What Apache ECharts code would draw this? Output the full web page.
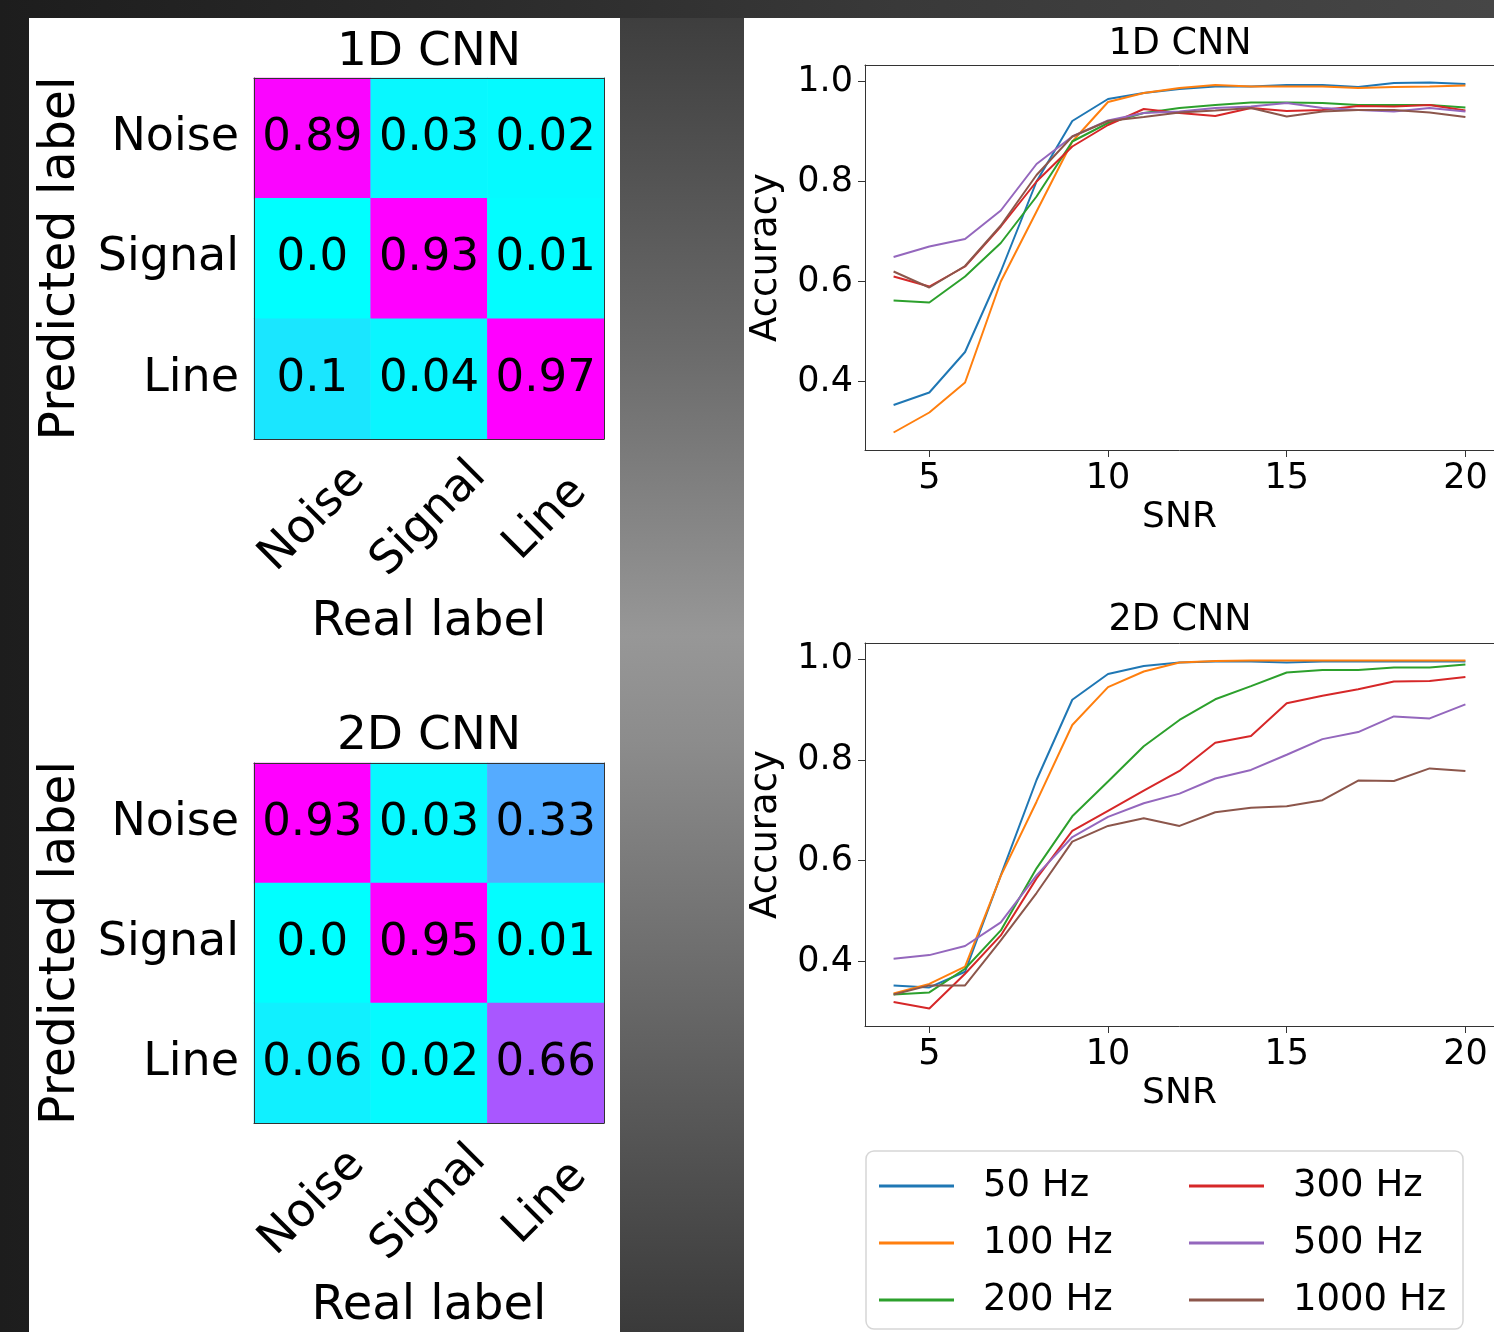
<!DOCTYPE html>
<html><head><meta charset="utf-8">
<script src="https://cdn.jsdelivr.net/npm/echarts@6/dist/echarts.min.js"></script>
<style>
html,body{margin:0;padding:0;width:1494px;height:1332px;overflow:hidden;}
body{background:linear-gradient(to right,#1d1d1d 0%,#2a2a2a 30%,#393939 60%,#464646 100%);position:relative;}
#mid{position:absolute;left:620px;top:18px;width:124px;height:1314px;background:linear-gradient(to bottom,#3e3e3e 0%,#6a6a6a 25%,#979797 47%,#8c8c8c 55%,#5e5e5e 80%,#3a3a3a 100%);}
#lp{position:absolute;left:29px;top:18px;width:591px;height:1314px;background:#fff;}
#rp{position:absolute;left:744px;top:18px;width:750px;height:1314px;background:#fff;}
#chart{position:absolute;left:0;top:0;width:1494px;height:1332px;}
</style></head>
<body>
<div id="mid"></div><div id="lp"></div><div id="rp"></div>
<div id="chart"></div>
<script>
// ---- data ----
const realLabels = ['Noise', 'Signal', 'Line'];
const predLabels = ['Noise', 'Signal', 'Line'];
// rows = predicted label, columns = real label
const cm1D = [[0.89, 0.03, 0.02], [0.0, 0.93, 0.01], [0.1, 0.04, 0.97]];
const cm2D = [[0.93, 0.03, 0.33], [0.0, 0.95, 0.01], [0.06, 0.02, 0.66]];

const snr = [4, 5, 6, 7, 8, 9, 10, 11, 12, 13, 14, 15, 16, 17, 18, 19, 20];
const xTicks = [5, 10, 15, 20];
const yTicks = [0.4, 0.6, 0.8, 1.0];
const seriesNames = ['50 Hz', '100 Hz', '200 Hz', '300 Hz', '500 Hz', '1000 Hz'];

const acc1D_50 = [0.353, 0.378, 0.459, 0.62, 0.80, 0.921, 0.965, 0.977, 0.985, 0.99, 0.99, 0.993, 0.993, 0.989, 0.997, 0.998, 0.995];
const acc1D_100 = [0.298, 0.338, 0.398, 0.60, 0.74, 0.88, 0.959, 0.977, 0.987, 0.993, 0.99, 0.99, 0.99, 0.987, 0.989, 0.99, 0.992];
const acc1D_200 = [0.562, 0.558, 0.61, 0.677, 0.77, 0.88, 0.917, 0.937, 0.947, 0.953, 0.958, 0.958, 0.957, 0.953, 0.953, 0.953, 0.948];
const acc1D_300 = [0.61, 0.59, 0.63, 0.71, 0.80, 0.87, 0.913, 0.945, 0.937, 0.931, 0.947, 0.941, 0.943, 0.951, 0.95, 0.953, 0.942];
const acc1D_500 = [0.649, 0.67, 0.685, 0.742, 0.835, 0.89, 0.922, 0.937, 0.94, 0.947, 0.95, 0.957, 0.947, 0.943, 0.94, 0.947, 0.94];
const acc1D_1000 = [0.62, 0.588, 0.631, 0.712, 0.813, 0.89, 0.921, 0.929, 0.938, 0.942, 0.947, 0.93, 0.94, 0.943, 0.943, 0.938, 0.929];

const acc2D_50 = [0.353, 0.349, 0.38, 0.571, 0.76, 0.919, 0.97, 0.986, 0.993, 0.995, 0.995, 0.993, 0.995, 0.995, 0.995, 0.995, 0.995];
const acc2D_100 = [0.337, 0.356, 0.39, 0.57, 0.717, 0.869, 0.944, 0.975, 0.993, 0.996, 0.997, 0.997, 0.997, 0.997, 0.997, 0.997, 0.997];
const acc2D_200 = [0.335, 0.339, 0.386, 0.462, 0.585, 0.688, 0.757, 0.827, 0.879, 0.92, 0.946, 0.973, 0.978, 0.978, 0.983, 0.983, 0.989];
const acc2D_300 = [0.32, 0.307, 0.376, 0.452, 0.565, 0.659, 0.699, 0.739, 0.778, 0.834, 0.847, 0.912, 0.927, 0.94, 0.955, 0.956, 0.964];
const acc2D_500 = [0.406, 0.413, 0.431, 0.478, 0.571, 0.647, 0.687, 0.714, 0.733, 0.763, 0.78, 0.81, 0.841, 0.855, 0.886, 0.882, 0.91];
const acc2D_1000 = [0.335, 0.353, 0.353, 0.442, 0.536, 0.638, 0.669, 0.684, 0.669, 0.696, 0.705, 0.708, 0.72, 0.759, 0.758, 0.783, 0.778];

const lines1D = [acc1D_50, acc1D_100, acc1D_200, acc1D_300, acc1D_500, acc1D_1000];
const lines2D = [acc2D_50, acc2D_100, acc2D_200, acc2D_300, acc2D_500, acc2D_1000];

// ---- styling ----
const FONT = '"DejaVu Sans", sans-serif';
const COLORS = ['#1f77b4', '#ff7f0e', '#2ca02c', '#d62728', '#9467bd', '#8c564b'];
const AX = '#333';
function cool(t) { return 'rgb(' + Math.round(255 * t) + ',' + Math.round(255 * (1 - t)) + ',255)'; }
const coolStops = [0, 0.1, 0.2, 0.3, 0.4, 0.5, 0.6, 0.7, 0.8].map(cool).concat(['#ff00ff']);

function cells(m) { const d = []; m.forEach((row, r) => row.forEach((v, c) => d.push([c, r, v]))); return d; }
function fmt(v) { return Number.isInteger(Math.round(v * 1000) / 100) ? v.toFixed(1) : String(v); }
function pairs(ys) { return snr.map((x, i) => [x, ys[i]]); }

const mats = [
  { grid: { left: 254, top: 78, width: 350, height: 361 }, title: '1D CNN', ty: 53, m: cm1D },
  { grid: { left: 254, top: 763, width: 350, height: 360 }, title: '2D CNN', ty: 737, m: cm2D }
];
const plots = [
  { grid: { left: 865, top: 65, width: 630, height: 385 }, title: '1D CNN', ty: 45, min: 0.263, max: 1.033, lines: lines1D },
  { grid: { left: 865, top: 643, width: 630, height: 383 }, title: '2D CNN', ty: 621, min: 0.2725, max: 1.0315, lines: lines2D }
];

const grid = [], xAxis = [], yAxis = [], series = [], visualMap = [], graphic = [];

mats.forEach((mt, k) => {
  grid.push(mt.grid);
  const gi = grid.length - 1;
  xAxis.push({
    type: 'category', gridIndex: gi, data: realLabels, position: 'bottom', z: 5,
    axisLine: { lineStyle: { color: AX, width: 1 } },
    axisTick: { alignWithLabel: true, length: 7, lineStyle: { color: AX } },
    axisLabel: { interval: 0, rotate: 45, align: 'center', verticalAlign: 'middle', margin: 80, fontSize: 46, color: '#000', fontFamily: FONT },
    splitLine: { show: false },
    name: 'Real label', nameLocation: 'middle', nameGap: 160,
    nameTextStyle: { fontSize: 48, color: '#000', fontFamily: FONT }
  });
  xAxis.push({
    type: 'category', gridIndex: gi, data: realLabels, position: 'top', z: 5,
    axisLine: { show: true, lineStyle: { color: AX, width: 1 } },
    axisTick: { show: false }, axisLabel: { show: false }, splitLine: { show: false }
  });
  yAxis.push({
    type: 'category', gridIndex: gi, data: predLabels, inverse: true, z: 5,
    axisLine: { lineStyle: { color: AX, width: 1 } },
    axisTick: { alignWithLabel: true, length: 7, lineStyle: { color: AX } },
    axisLabel: { interval: 0, margin: 15, fontSize: 46, color: '#000', fontFamily: FONT },
    splitLine: { show: false },
    name: 'Predicted label', nameLocation: 'middle', nameRotate: 90, nameGap: 168,
    nameTextStyle: { fontSize: 49, color: '#000', fontFamily: FONT }
  });
  yAxis.push({
    type: 'category', gridIndex: gi, data: predLabels, inverse: true, position: 'right', z: 5,
    axisLine: { show: true, lineStyle: { color: AX, width: 1 } },
    axisTick: { show: false }, axisLabel: { show: false }, splitLine: { show: false }
  });
  series.push({
    type: 'heatmap', xAxisIndex: xAxis.length - 2, yAxisIndex: yAxis.length - 2, z: 1,
    data: cells(mt.m),
    label: { show: true, fontSize: 45, color: '#000', fontFamily: FONT, formatter: p => fmt(p.value[2]) },
    itemStyle: { borderWidth: 0 },
    emphasis: { disabled: true }
  });
  visualMap.push({ type: 'continuous', show: false, seriesIndex: series.length - 1, dimension: 2, min: 0, max: 0.9, inRange: { color: coolStops } });
  graphic.push({ type: 'text', x: mt.grid.left + mt.grid.width / 2, y: mt.ty, z: 10,
    style: { text: mt.title, font: '47px ' + FONT, fill: '#000', align: 'center', verticalAlign: 'middle' } });
});

plots.forEach((pl) => {
  grid.push(pl.grid);
  const gi = grid.length - 1;
  xAxis.push({
    type: 'value', gridIndex: gi, min: 3.2, max: 20.8,
    axisLine: { show: true, onZero: false, lineStyle: { color: AX, width: 1 } },
    axisTick: { show: true, length: 7, customValues: xTicks, lineStyle: { color: AX } },
    axisLabel: { customValues: xTicks, margin: 11, fontSize: 35, color: '#000', fontFamily: FONT },
    splitLine: { show: false },
    name: 'SNR', nameLocation: 'middle', nameGap: 50,
    nameTextStyle: { fontSize: 36, color: '#000', fontFamily: FONT }
  });
  xAxis.push({
    type: 'value', gridIndex: gi, min: 3.2, max: 20.8, position: 'top',
    axisLine: { show: true, onZero: false, lineStyle: { color: AX, width: 1 } },
    axisTick: { show: false }, axisLabel: { show: false }, splitLine: { show: false }
  });
  yAxis.push({
    type: 'value', gridIndex: gi, min: pl.min, max: pl.max,
    axisLine: { show: true, onZero: false, lineStyle: { color: AX, width: 1 } },
    axisTick: { show: true, length: 7, customValues: yTicks, lineStyle: { color: AX } },
    axisLabel: { customValues: yTicks, margin: 12, fontSize: 35, color: '#000', fontFamily: FONT, formatter: v => v.toFixed(1) },
    splitLine: { show: false },
    name: 'Accuracy', nameLocation: 'middle', nameRotate: 90, nameGap: 80,
    nameTextStyle: { fontSize: 37, color: '#000', fontFamily: FONT }
  });
  yAxis.push({
    type: 'value', gridIndex: gi, min: pl.min, max: pl.max, position: 'right',
    axisLine: { show: true, onZero: false, lineStyle: { color: AX, width: 1 } },
    axisTick: { show: false }, axisLabel: { show: false }, splitLine: { show: false }
  });
  pl.lines.forEach((ys, i) => {
    series.push({
      type: 'line', name: seriesNames[i], xAxisIndex: xAxis.length - 2, yAxisIndex: yAxis.length - 2,
      data: pairs(ys), symbol: 'none', showSymbol: false, clip: true,
      itemStyle: { color: COLORS[i] }, lineStyle: { color: COLORS[i], width: 2 },
      emphasis: { disabled: true }
    });
  });
  graphic.push({ type: 'text', x: pl.grid.left + 315, y: pl.ty, z: 10,
    style: { text: pl.title, font: '36.5px ' + FONT, fill: '#000', align: 'center', verticalAlign: 'middle' } });
});

graphic.push({ type: 'rect', z: 1, shape: { x: 866, y: 1151, width: 597, height: 178, r: 8 },
  style: { fill: '#fff', stroke: '#d6d6d6', lineWidth: 1.5 } });

const legendText = { fontSize: 37, color: '#000', fontFamily: FONT, lineHeight: 40, padding: [0, 0, 0, 24] };
const legend = [
  { data: seriesNames.slice(0, 3), orient: 'vertical', left: 874, top: 1161, itemWidth: 75, itemHeight: 3, itemGap: 17, icon: 'rect', textStyle: legendText, selectedMode: false, z: 5 },
  { data: seriesNames.slice(3), orient: 'vertical', left: 1184, top: 1161, itemWidth: 75, itemHeight: 3, itemGap: 17, icon: 'rect', textStyle: legendText, selectedMode: false, z: 5 }
];

const chart = echarts.init(document.getElementById('chart'), null, { renderer: 'canvas' });
chart.setOption({
  backgroundColor: 'transparent',
  animation: false,
  textStyle: { fontFamily: FONT },
  grid, xAxis, yAxis, series, visualMap, legend, graphic
});
</script>
</body></html>
